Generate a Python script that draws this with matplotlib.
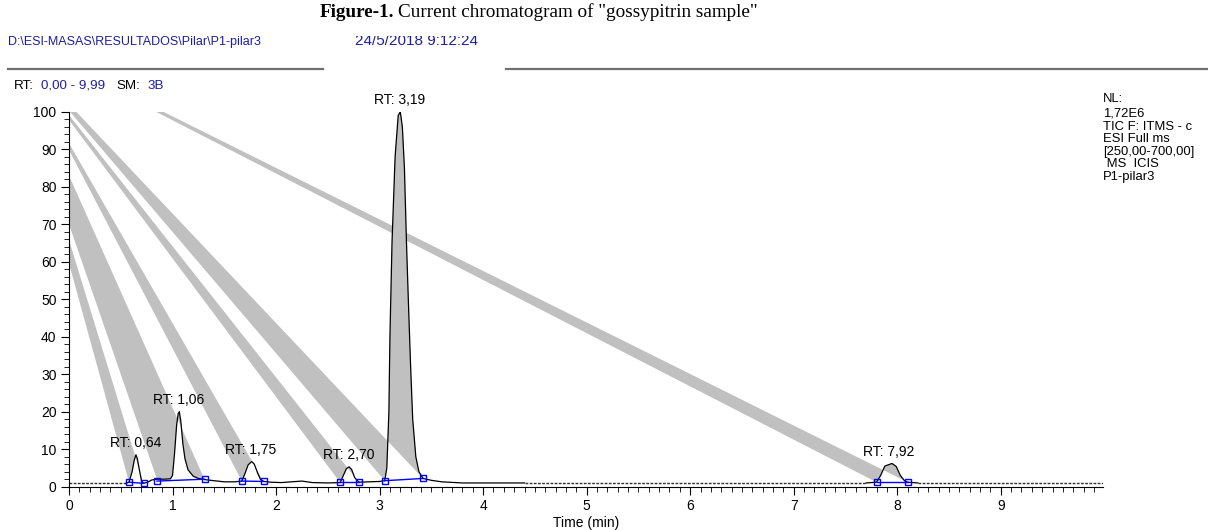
import numpy as np
import matplotlib.pyplot as plt
from matplotlib.lines import Line2D
from matplotlib.patches import Rectangle

plt.rcParams['font.family'] = ['Liberation Sans', 'DejaVu Sans']
plt.rcParams['path.simplify'] = False

# chromatogram trace (time in min, relative abundance)
trace_t = [0.00, 0.20, 0.40, 0.55, 0.58, 0.61, 0.63, 0.647, 0.66, 0.68, 0.70, 0.72,
           0.76, 0.80, 0.85, 0.92, 0.98, 1.00, 1.02, 1.04, 1.055, 1.066, 1.08, 1.10,
           1.12, 1.15, 1.20, 1.25, 1.31, 1.40, 1.50, 1.60, 1.67, 1.70, 1.73, 1.765,
           1.79, 1.82, 1.85, 1.88, 1.95, 2.05, 2.15, 2.25, 2.35, 2.50, 2.62, 2.65,
           2.68, 2.705, 2.73, 2.76, 2.80, 2.90, 3.00, 3.05, 3.07, 3.09, 3.10, 3.12,
           3.15, 3.18, 3.20, 3.22, 3.24, 3.26, 3.28, 3.30, 3.32, 3.35, 3.38, 3.42,
           3.50, 3.60, 3.80, 4.00, 4.40]
trace_y = [0.9, 0.9, 0.9, 0.9, 1.2, 4.0, 7.0, 8.5, 7.5, 4.5, 1.6, 0.9,
           1.2, 1.8, 2.0, 2.0, 2.1, 3.0, 9.0, 16.5, 19.5, 20.0, 17.5, 11.5,
           7.5, 4.5, 2.8, 2.2, 1.9, 1.6, 1.3, 1.3, 1.5, 3.5, 5.8, 6.7,
           6.0, 3.8, 1.9, 1.4, 1.2, 1.1, 1.3, 1.5, 1.1, 1.0, 1.1, 3.0,
           4.8, 5.3, 4.6, 2.4, 1.2, 1.3, 1.4, 1.6, 5.0, 20.0, 40.0, 65.0,
           88.0, 99.0, 100.0, 96.0, 85.0, 65.0, 48.0, 32.0, 18.0, 8.0, 4.0, 2.2,
           1.7, 1.3, 1.0, 1.0, 1.0]
tail_t = [4.40, 5.00, 6.00, 7.00, 7.70, 7.75, 7.80, 7.84, 7.88, 7.95, 7.99, 8.03,
          8.07, 8.10, 8.20, 9.00, 9.99]
tail_y = [1.0, 1.0, 1.0, 1.0, 1.0, 1.1, 1.2, 3.0, 5.5, 6.2, 5.4, 3.0,
          1.6, 1.2, 1.0, 1.0, 1.0]

# detected peaks
peak_rt = [0.64, 1.06, 1.75, 2.70, 3.19, 7.92]
peak_apex = [8.5, 20.0, 6.7, 5.3, 100.0, 6.2]
peak_lbl = ['RT: 0,64', 'RT: 1,06', 'RT: 1,75', 'RT: 2,70', 'RT: 3,19', 'RT: 7,92']
base_t0 = [0.58, 0.85, 1.67, 2.62, 3.05, 7.80]
base_y0 = [1.2, 1.5, 1.5, 1.2, 1.6, 1.2]
base_t1 = [0.72, 1.31, 1.88, 2.80, 3.42, 8.10]
base_y1 = [0.9, 2.0, 1.4, 1.2, 2.2, 1.2]
# stray vertices of the peak fill polygons
anchor_s = [(0.0, 59.6), (0.0, 70.0), (0.0, 89.8), (0.0, 97.8), (0.01, 100.0), (0.84, 100.0)]
anchor_e = [(0.0, 65.8), (0.0, 83.0), (0.0, 91.6), (0.0, 99.1), (0.07, 100.0), (0.91, 100.0)]

info_lines = ['NL:', '1,72E6', 'TIC F: ITMS - c', 'ESI Full ms', '[250,00-700,00]', ' MS  ICIS', 'P1-pilar3']

blue = '#1e1ea0'
fig = plt.figure(figsize=(12.08, 5.30), dpi=100)
ax = fig.add_axes([0.0571, 0.0817, 0.8562, 0.7075])

all_t = np.array(trace_t + tail_t[1:])
all_y = np.array(trace_y + tail_y[1:])

for i in range(len(peak_rt)):
    m = (all_t >= base_t0[i] - 1e-9) & (all_t <= base_t1[i] + 1e-9)
    px = [anchor_s[i][0]] + list(all_t[m]) + [anchor_e[i][0]]
    py = [anchor_s[i][1]] + list(all_y[m]) + [anchor_e[i][1]]
    ax.fill(px, py, color='#c0c0c0', lw=0, zorder=1)

# solid where the signal rises, dotted-looking noisy baseline elsewhere
solid = ((all_t >= 0.55) & (all_t <= 4.4)) | ((all_t >= 7.70) & (all_t <= 8.20))
ax.plot(all_t, np.where(solid, all_y, np.nan), color='black', lw=0.9, zorder=3)
for a, b in [(0.0, 0.55), (4.4, 7.7), (8.2, 9.99)]:
    m = (all_t >= a) & (all_t <= b)
    ax.plot(all_t[m], all_y[m], color='#333333', lw=1.0, ls=(0, (2, 1)), zorder=2)

for i in range(len(peak_rt)):
    ax.plot([base_t0[i], base_t1[i]], [base_y0[i], base_y1[i]], color='#0000ff', lw=1.0,
            marker='s', ms=5, mfc='none', mec='#0000ff', mew=1.0, zorder=4)
    ax.text(peak_rt[i], peak_apex[i] + 1.3, peak_lbl[i], ha='center', va='bottom', fontsize=10)

ax.set_xlim(0, 9.99)
ax.set_ylim(0, 100)
ax.set_xticks(range(0, 10))
ax.set_xticks(np.arange(0, 10.0, 0.1), minor=True)
ax.set_yticks(range(0, 101, 10))
ax.set_yticks(range(0, 101, 2), minor=True)
ax.tick_params(labelsize=10, width=0.8, length=6, direction='out', pad=3)
ax.tick_params(which='minor', length=3.5, width=0.6)
ax.spines['top'].set_visible(False)
ax.spines['right'].set_visible(False)
ax.set_xlabel('Time (min)', fontsize=10, labelpad=2)

# header
t1 = fig.text(320 / 1208, 0.977, 'Figure-1.', family='Liberation Serif', weight='bold', fontsize=13.8, va='center')
fig.canvas.draw()
bb = t1.get_window_extent()
fig.text((bb.x1 + 4) / 1208, 0.977, 'Current chromatogram of "gossypitrin sample"', family='Liberation Serif',
         fontsize=13.8, va='center')
fig.text(0.007, 1 - 45 / 530, 'D:\\ESI-MASAS\\RESULTADOS\\Pilar\\P1-pilar3', color=blue, fontsize=9,
         va='baseline')
fig.text(355 / 1208, 1 - 45 / 530, '24/5/2018 9:12:24', color=blue, fontsize=11, va='baseline')
fig.add_artist(Rectangle((345 / 1208, 1 - 35.5 / 530), 150 / 1208, 10 / 530, facecolor='white',
                         edgecolor='none', zorder=5))
fig.add_artist(Line2D([0.007, 0.267], [0.87, 0.87], color='#707070', lw=1.6))
fig.add_artist(Line2D([0.419, 1.0], [0.87, 0.87], color='#707070', lw=1.6))
ry = 1 - 86 / 530
fig.text(0.0116, ry, 'RT:', fontsize=9.6, va='center')
fig.text(0.034, ry, '0,00 - 9,99', color=blue, fontsize=9.6, va='center')
fig.text(0.0965, ry, 'SM:', fontsize=9.6, va='center')
fig.text(0.1225, ry, '3B', color=blue, fontsize=9.6, va='center')

info_y = [99, 113, 127, 139, 152, 164, 177]
for s, yy in zip(info_lines, info_y):
    fig.text(0.913, 1 - yy / 530, s, fontsize=9.4, va='center')

fig.savefig('out.png', dpi=100)
